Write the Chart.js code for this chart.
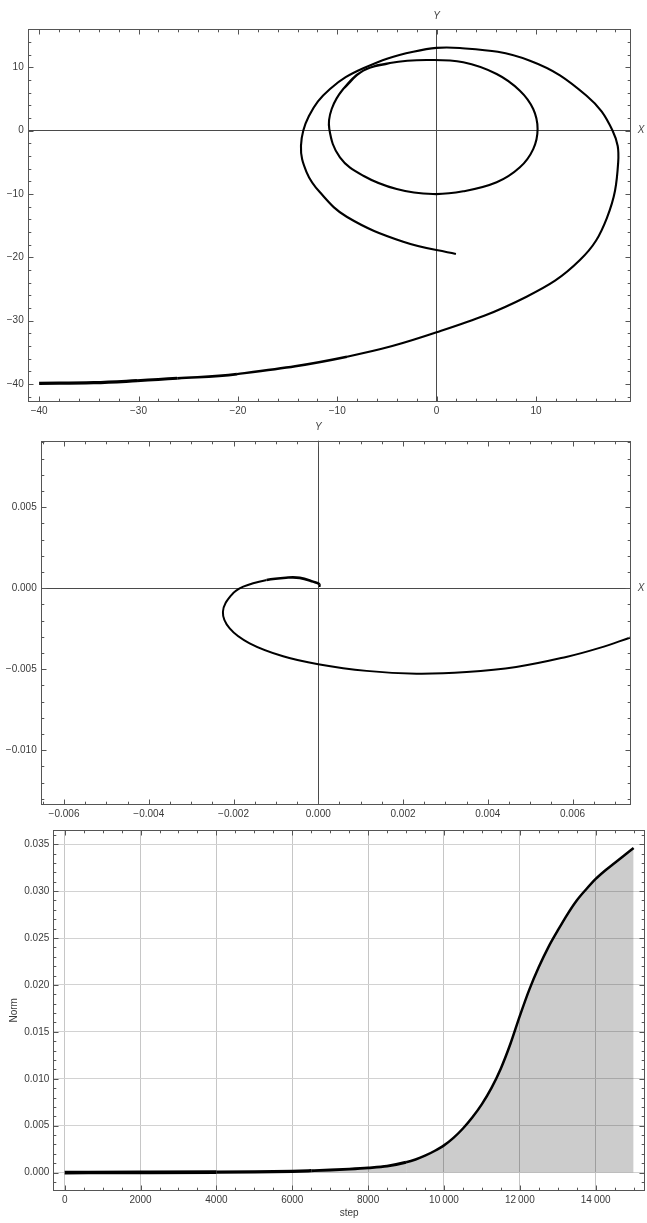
<!DOCTYPE html>
<html>
<head>
<meta charset="utf-8">
<script src="https://cdn.jsdelivr.net/npm/chart.js@4.4.1/dist/chart.umd.min.js"></script>
<style>
  body { margin: 0; background: #fff; width: 647px; height: 1223px; position: relative; overflow: hidden; }
  canvas { position: absolute; left: 0; }
</style>
</head>
<body>
<canvas id="orbit" width="647" height="420" style="top:0px"></canvas>
<canvas id="zoomed" width="647" height="400" style="top:420px"></canvas>
<canvas id="normChart" width="647" height="403" style="top:820px"></canvas>
<script>
// top panel: orbit in the X-Y plane (tail -> outer loop -> end)
const orbitOuterX = [-40, -34.51, -30.15, -26.1, -20.09, -9.02, 0, 9.05, 14.42, 17.13, 18.27, 17.71, 15.09, 9.39, 2.34, -2.35, -7.38, -10.73, -12.85, -13.65, -13.08, -11.74, -9.05, -3.36, 1.94];
const orbitOuterY = [-39.9, -39.8, -39.49, -39.12, -38.44, -35.7, -31.85, -26.22, -20.43, -13.79, -4.99, 0, 5.53, 11.06, 13.06, 12.48, 9.86, 6.59, 2.32, -2.37, -6.57, -9.73, -13.59, -17.54, -19.48];
// inner closed loop (first points repeated at the end so the join stays smooth)
const orbitInnerX = [-9.4, -7.38, -4.7, -1.01, 2.68, 6.04, 8.38, 9.72, 10.16, 9.72, 8.38, 6.04, 2.68, -0.37, -4.02, -7.38, -9.73, -10.8, -10.56, -9.4, -7.38, -4.7];
const orbitInnerY = [6.59, 9.48, 10.7, 11.17, 10.81, 8.96, 6.32, 3.43, 0.27, -2.9, -5.78, -8.15, -9.57, -10.0, -9.21, -7.11, -4.2, 0.27, 3.43, 6.59, 9.48, 10.7];
const orbitTicks = [-40, -30, -20, -10, 0, 10];
const orbitTickLabels = ['\u221240', '\u221230', '\u221220', '\u221210', '0', '10'];

// middle panel: zoom near the origin
const zoomX = [0.00003, 0.00003, -0.000123, -0.000436, -0.000712, -0.00122, -0.00177, -0.00205, -0.00225, -0.00209, -0.00162, -0.00083, 0, 0.00114, 0.00232, 0.0035, 0.00467, 0.00585, 0.00664, 0.00737];
const zoomY = [0.00008, 0.00025, 0.00041, 0.00064, 0.00066, 0.00051, 0.0001, -0.00042, -0.00145, -0.00248, -0.0034, -0.0042, -0.00469, -0.0051, -0.00527, -0.00517, -0.00486, -0.00424, -0.00368, -0.00304];
const zoomXTicks = [-0.006, -0.004, -0.002, 0, 0.002, 0.004, 0.006];
const zoomXLabels = ['\u22120.006', '\u22120.004', '\u22120.002', '0.000', '0.002', '0.004', '0.006'];
const zoomYTicks = [-0.01, -0.005, 0, 0.005];
const zoomYLabels = ['\u22120.010', '\u22120.005', '0.000', '0.005'];

// bottom panel: norm against step
const steps = [0, 2000, 4000, 5000, 6000, 6500, 7000, 7500, 8000, 8500, 9000, 9250, 9500, 9750, 10000, 10250, 10500, 10750, 11000, 11250, 11500, 11750, 12000, 12250, 12500, 12750, 13000, 13250, 13500, 13750, 14000, 14250, 14500, 14750, 15000];
const norm = [0, 0.00002, 0.00005, 0.00008, 0.00014, 0.0002, 0.00027, 0.00037, 0.0005, 0.00069, 0.0011, 0.0014, 0.0018, 0.0023, 0.0029, 0.0037, 0.0047, 0.0059, 0.0073, 0.009, 0.0111, 0.0137, 0.0167, 0.0195, 0.0219, 0.0240, 0.0258, 0.0275, 0.029, 0.0302, 0.0313, 0.0322, 0.033, 0.0338, 0.0346];
const stepTicks = [0, 2000, 4000, 6000, 8000, 10000, 12000, 14000];
const stepLabels = ['0', '2000', '4000', '6000', '8000', '10\u2009000', '12\u2009000', '14\u2009000'];
const normTicks = [0, 0.005, 0.01, 0.015, 0.02, 0.025, 0.03, 0.035];
const normLabels = ['0.000', '0.005', '0.010', '0.015', '0.020', '0.025', '0.030', '0.035'];

Chart.defaults.font.family = '"Liberation Sans", Arial, sans-serif';
Chart.defaults.font.size = 10;
Chart.defaults.color = '#3a3a3a';

function pts(xs, ys) {
  return xs.map((x, i) => ({x: x, y: ys[i]}));
}

function fixedTicks(values) {
  return scale => { scale.ticks = values.map(v => ({value: v})); };
}

function labelFor(values, labels) {
  return v => {
    const i = values.findIndex(t => Math.abs(t - v) < 1e-12);
    return i < 0 ? '' : labels[i];
  };
}

const zeroLine = c => (c.tick && c.tick.value === 0) ? '#4a4a4a' : 'rgba(0,0,0,0)';

// frame around the plot with inward major/minor ticks on all four sides
const frameTicks = {
  id: 'frameTicks',
  afterDatasetsDraw(chart, args, opts) {
    const ctx = chart.ctx, a = chart.chartArea;
    const xs = chart.scales.x, ys = chart.scales.y;
    ctx.save();
    ctx.strokeStyle = '#555';
    ctx.lineWidth = 1;
    ctx.strokeRect(Math.round(a.left) + 0.5, Math.round(a.top) + 0.5,
      Math.round(a.right) - Math.round(a.left) - 1, Math.round(a.bottom) - Math.round(a.top) - 1);
    ctx.beginPath();
    const b = Math.round(a.bottom) - 0.5, t = Math.round(a.top) + 0.5;
    const l = Math.round(a.left) + 0.5, r = Math.round(a.right) - 0.5;
    function xTick(v, len) {
      const p = Math.round(xs.getPixelForValue(v)) + 0.5;
      ctx.moveTo(p, b); ctx.lineTo(p, b - len);
      ctx.moveTo(p, t); ctx.lineTo(p, t + len);
    }
    function yTick(v, len) {
      const p = Math.round(ys.getPixelForValue(v)) + 0.5;
      ctx.moveTo(l, p); ctx.lineTo(l + len, p);
      ctx.moveTo(r, p); ctx.lineTo(r - len, p);
    }
    function run(scale, minor, major, fn) {
      for (let k = Math.ceil(scale.min / minor - 1e-9); k * minor <= scale.max + 1e-12; k++) {
        const v = k * minor;
        const ratio = v / major;
        const isMajor = Math.abs(ratio - Math.round(ratio)) < 1e-6;
        fn(v, isMajor ? 5 : 2.8);
      }
    }
    run(xs, opts.xMinor, opts.xMajor, xTick);
    run(ys, opts.yMinor, opts.yMajor, yTick);
    ctx.stroke();
    ctx.restore();
  }
};

// italic X / Y letters at the ends of the origin axes
const axisLetters = {
  id: 'axisLetters',
  afterDraw(chart, args, opts) {
    if (!opts.show) return;
    const ctx = chart.ctx, a = chart.chartArea;
    ctx.save();
    ctx.font = 'italic 10px "Liberation Sans", Arial, sans-serif';
    ctx.fillStyle = '#444';
    ctx.textAlign = 'center';
    ctx.textBaseline = 'middle';
    ctx.fillText('Y', chart.scales.x.getPixelForValue(0), a.top - 13);
    ctx.fillText('X', a.right + 10, chart.scales.y.getPixelForValue(0));
    ctx.restore();
  }
};

Chart.register(frameTicks, axisLetters);

function baseOptions(pad) {
  return {
    responsive: false,
    animation: false,
    events: [],
    layout: {padding: pad},
    plugins: {legend: {display: false}, tooltip: {enabled: false}}
  };
}

// ---- top panel
const opt1 = baseOptions({left: 0, top: 29.3, right: 16, bottom: 0});
opt1.plugins.frameTicks = {xMajor: 10, xMinor: 2, yMajor: 10, yMinor: 2};
opt1.plugins.axisLetters = {show: true};
opt1.scales = {
  x: {
    type: 'linear', min: -41.15, max: 19.56,
    afterBuildTicks: fixedTicks(orbitTicks),
    afterFit: s => { s.height = 17.7; },
    grid: {drawTicks: false, color: zeroLine},
    border: {display: false},
    ticks: {padding: 3, autoSkip: false, maxRotation: 0, callback: labelFor(orbitTicks, orbitTickLabels)}
  },
  y: {
    type: 'linear', min: -42.9, max: 16.02,
    afterBuildTicks: fixedTicks(orbitTicks),
    afterFit: s => { s.width = 27.7; },
    grid: {drawTicks: false, color: zeroLine},
    border: {display: false},
    ticks: {padding: 4, autoSkip: false, callback: labelFor(orbitTicks, orbitTickLabels)}
  }
};
// the slow start of the orbit is drawn heavier, thinning out gradually
function tailWidth(x) {
  if (x < -34) return 3.3;
  if (x < -30) return 3.0;
  if (x < -26) return 2.7;
  if (x < -20) return 2.4;
  return 2.1;
}
new Chart(document.getElementById('orbit'), {
  type: 'scatter',
  data: {
    datasets: [
      {
        data: pts(orbitOuterX, orbitOuterY), showLine: true, pointRadius: 0,
        borderColor: '#000', borderWidth: 2.1, tension: 0.4,
        segment: {borderWidth: c => tailWidth(c.p0.parsed.x)}
      },
      {
        data: pts(orbitInnerX, orbitInnerY), showLine: true, pointRadius: 0,
        borderColor: '#000', borderWidth: 2.1, tension: 0.4
      }
    ]
  },
  options: opt1
});

// ---- middle panel
const opt2 = baseOptions({left: 0, top: 20.7, right: 16, bottom: 0});
opt2.plugins.frameTicks = {xMajor: 0.002, xMinor: 0.0005, yMajor: 0.005, yMinor: 0.001};
opt2.plugins.axisLetters = {show: true};
opt2.scales = {
  x: {
    type: 'linear', min: -0.00655, max: 0.00738,
    afterBuildTicks: fixedTicks(zoomXTicks),
    afterFit: s => { s.height = 15; },
    grid: {drawTicks: false, color: zeroLine},
    border: {display: false},
    ticks: {padding: 3, autoSkip: false, maxRotation: 0, callback: labelFor(zoomXTicks, zoomXLabels)}
  },
  y: {
    type: 'linear', min: -0.01338, max: 0.00911,
    afterBuildTicks: fixedTicks(zoomYTicks),
    afterFit: s => { s.width = 40.7; },
    grid: {drawTicks: false, color: zeroLine},
    border: {display: false},
    ticks: {padding: 4, autoSkip: false, callback: labelFor(zoomYTicks, zoomYLabels)}
  }
};
new Chart(document.getElementById('zoomed'), {
  type: 'scatter',
  data: {
    datasets: [{
      data: pts(zoomX, zoomY), showLine: true, pointRadius: 0,
      borderColor: '#000', borderWidth: 2, tension: 0.4,
      segment: {borderWidth: c => c.p0.parsed.y > 0.0002 && c.p0.parsed.x > -0.0009 ? 2.6 : 2}
    }]
  },
  options: opt2
});

// ---- bottom panel
const opt3 = baseOptions({left: 4, top: 4.7, right: 2, bottom: 0});
opt3.plugins.frameTicks = {xMajor: 2000, xMinor: 500, yMajor: 0.005, yMinor: 0.001};
opt3.plugins.axisLetters = {show: false};
opt3.scales = {
  x: {
    type: 'linear', min: -300, max: 15300,
    afterBuildTicks: fixedTicks(stepTicks),
    afterFit: s => { s.height = 32.3; },
    grid: {drawTicks: false, color: '#c6c6c6'},
    border: {display: false},
    ticks: {padding: 4, autoSkip: false, maxRotation: 0, callback: labelFor(stepTicks, stepLabels)},
    title: {display: true, text: 'step', padding: {top: 0, bottom: 4}}
  },
  y: {
    type: 'linear', min: -0.00193, max: 0.03651,
    afterBuildTicks: fixedTicks(normTicks),
    afterFit: s => { s.width = 49.3; },
    grid: {drawTicks: false, color: '#d2d2d2'},
    border: {display: false},
    ticks: {padding: 4, autoSkip: false, callback: labelFor(normTicks, normLabels)},
    title: {display: true, text: 'Norm', padding: {top: 4, bottom: 0}}
  }
};
function flatWidth(x) {
  if (x < 4000) return 3.6;
  if (x < 6500) return 3.2;
  if (x < 9000) return 2.9;
  return 2.5;
}
new Chart(document.getElementById('normChart'), {
  type: 'scatter',
  data: {
    datasets: [{
      data: pts(steps, norm), showLine: true, pointRadius: 0,
      borderColor: '#000', borderWidth: 2.5, cubicInterpolationMode: 'monotone',
      fill: 'origin', backgroundColor: 'rgba(0,0,0,0.2)',
      segment: {borderWidth: c => flatWidth(c.p0.parsed.x)}
    }]
  },
  options: opt3
});
</script>
</body>
</html>
